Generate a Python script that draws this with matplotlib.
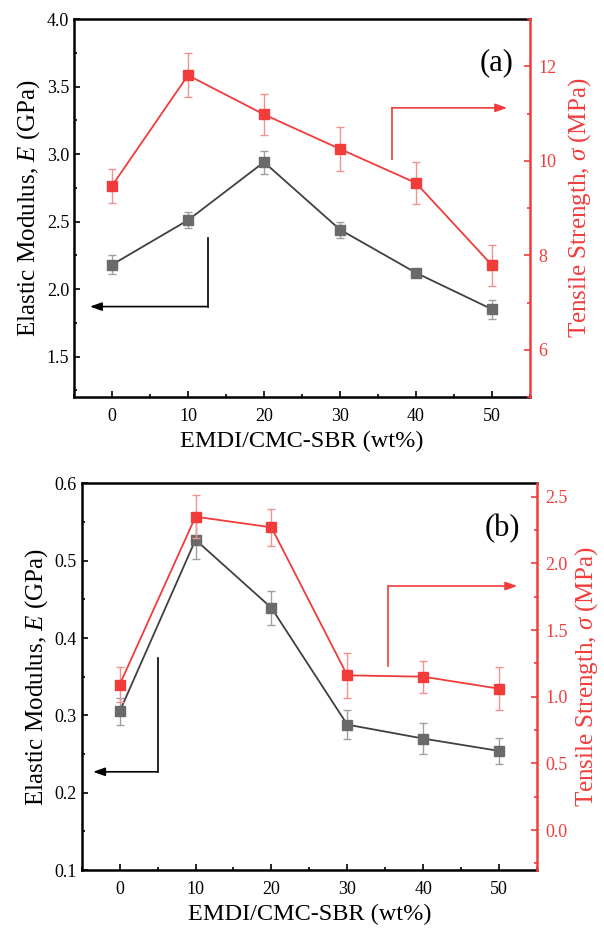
"""
Elastic modulus and tensile strength versus EMDI content, two panels
"""
import matplotlib
matplotlib.use("Agg")
import matplotlib.pyplot as plt
from matplotlib.ticker import MultipleLocator

plt.rcParams['font.family'] = ['Liberation Serif', 'DejaVu Serif']
plt.rcParams['mathtext.fontset'] = 'custom'
plt.rcParams['mathtext.rm'] = 'Liberation Serif'
plt.rcParams['mathtext.it'] = 'Liberation Serif:italic'

# ----------------------------------------------------------------------------
# data
# ----------------------------------------------------------------------------
emdi = [0, 10, 20, 30, 40, 50]

# panel (a)
modulus_a = [2.18, 2.51, 2.94, 2.44, 2.12, 1.85]
modulus_a_err = [0.07, 0.06, 0.085, 0.06, 0.02, 0.07]
strength_a = [9.47, 11.81, 10.98, 10.25, 9.53, 7.79]
strength_a_err = [0.36, 0.47, 0.43, 0.47, 0.45, 0.43]

# panel (b)
modulus_b = [0.305, 0.527, 0.439, 0.288, 0.270, 0.254]
modulus_b_err = [0.017, 0.025, 0.022, 0.019, 0.020, 0.017]
strength_b = [1.09, 2.35, 2.27, 1.16, 1.15, 1.06]
strength_b_err = [0.13, 0.16, 0.14, 0.17, 0.12, 0.16]

# arrows: (x of vertical, y start, y corner, x tip)
arrow_left_a = (12.6, 2.38, 1.87, -2.9)
arrow_right_a = (36.8, 10.03, 11.12, 52.0)
arrow_left_b = (5.0, 0.374, 0.227, -3.5)
arrow_right_b = (35.4, 1.23, 1.83, 52.4)

RED = '#F23C3C'
RED_ERR = '#F49090'
GRAY = '#6A6A6A'
GRAY_ERR = '#A0A0A0'
LINE = '#404040'


def style_axes(ax, ax2, right_pad):
    for s in ['left', 'top', 'bottom']:
        ax.spines[s].set_linewidth(1.8)
        ax2.spines[s].set_visible(False)
    ax.spines['right'].set_visible(False)
    ax2.spines['right'].set_color(RED)
    ax2.spines['right'].set_linewidth(1.8)
    ax.tick_params(which='both', direction='in', top=False, right=False,
                   width=1.2, labelsize=13)
    ax.tick_params(which='major', length=4.5)
    ax.tick_params(which='minor', length=2.5)
    ax.tick_params(axis='x', pad=8)
    ax2.tick_params(which='both', direction='in', colors=RED, width=1.2,
                    labelsize=13, pad=6)
    ax2.tick_params(which='major', length=4.5)
    ax2.tick_params(which='minor', length=2.5)
    ax.xaxis.set_major_locator(MultipleLocator(10))
    ax.xaxis.set_minor_locator(MultipleLocator(5))
    ax.set_xlim(-5, 55)
    ax.set_xlabel('EMDI/CMC-SBR (wt%)', fontsize=17.5, labelpad=4)
    ax.set_ylabel('Elastic Modulus, $E$ (GPa)', fontsize=18, labelpad=3)
    ax2.set_ylabel(r'Tensile Strength, $\sigma$ (MPa)', fontsize=18,
                   color=RED, labelpad=right_pad)


def draw_panel(ax, mod, mod_err, st, st_err, arr_l, arr_r, tag, right_pad):
    ax2 = ax.twinx()
    ax.errorbar(emdi, mod, yerr=mod_err, color=LINE, lw=1.3, marker='s',
                ms=6.5, mfc=GRAY, mec=GRAY, ecolor=GRAY_ERR, elinewidth=1.0,
                capsize=3, capthick=1.0, zorder=3)
    ax2.errorbar(emdi, st, yerr=st_err, color=RED, lw=1.3, marker='s',
                 ms=6.5, mfc=RED, mec=RED, ecolor=RED_ERR, elinewidth=1.0,
                 capsize=3, capthick=1.0, zorder=3)

    # direction arrows
    x, y0, y1, tip = arr_l
    ax.plot([x, x], [y0, y1], color='black', lw=1.2)
    ax.annotate('', xy=(tip, y1), xytext=(x, y1),
                arrowprops=dict(arrowstyle='-|>,head_length=0.7,head_width=0.25',
                                color='black', lw=1.2, shrinkA=0, shrinkB=0))
    x, y0, y1, tip = arr_r
    ax2.plot([x, x], [y0, y1], color=RED, lw=1.2)
    ax2.annotate('', xy=(tip, y1), xytext=(x, y1),
                 arrowprops=dict(arrowstyle='-|>,head_length=0.7,head_width=0.25',
                                 color=RED, lw=1.2, shrinkA=0, shrinkB=0))

    ax.text(0.963, 0.884, tag, transform=ax.transAxes, fontsize=22,
            ha='right', va='center')
    style_axes(ax, ax2, right_pad)
    return ax2


fig = plt.figure(figsize=(6.04, 9.32), dpi=100)

ax_a = fig.add_axes([0.1225, 0.574, 0.755, 0.4056])
ax2_a = draw_panel(ax_a, modulus_a, modulus_a_err, strength_a, strength_a_err,
                   arrow_left_a, arrow_right_a, '(a)', 7)
ax_a.set_ylim(1.2, 4.0)
ax_a.yaxis.set_major_locator(MultipleLocator(0.5))
ax_a.yaxis.set_minor_locator(MultipleLocator(0.25))
ax_a.yaxis.set_major_formatter(lambda v, p: f'{v:.1f}')
ax2_a.set_ylim(5, 13)
ax2_a.yaxis.set_major_locator(MultipleLocator(2))
ax2_a.yaxis.set_minor_locator(MultipleLocator(1))

ax_b = fig.add_axes([0.1353, 0.0665, 0.7537, 0.4149])
ax2_b = draw_panel(ax_b, modulus_b, modulus_b_err, strength_b, strength_b_err,
                   arrow_left_b, arrow_right_b, '(b)', 4)
ax_b.set_ylim(0.1, 0.6)
ax_b.yaxis.set_major_locator(MultipleLocator(0.1))
ax_b.yaxis.set_minor_locator(MultipleLocator(0.05))
ax_b.yaxis.set_major_formatter(lambda v, p: f'{v:.1f}')
ax2_b.set_ylim(-0.3, 2.6)
ax2_b.yaxis.set_major_locator(MultipleLocator(0.5))
ax2_b.yaxis.set_minor_locator(MultipleLocator(0.25))
ax2_b.yaxis.set_major_formatter(lambda v, p: f'{v:.1f}')

fig.savefig('out.png', dpi=100)
